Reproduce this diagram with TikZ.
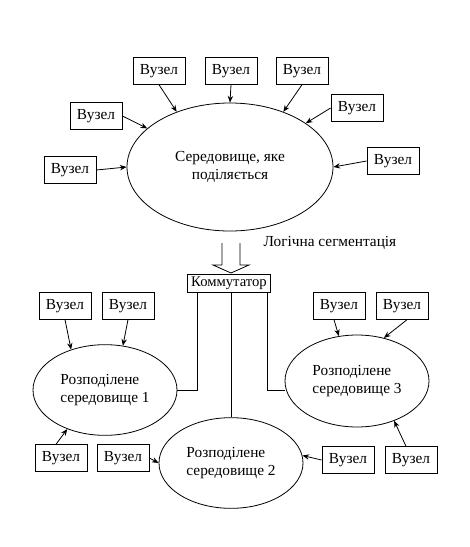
\documentclass[tikz,border=0pt]{standalone}
\usepackage{fontspec}
\setmainfont{Liberation Serif}
\usetikzlibrary{shapes.geometric,arrows.meta}

\begin{document}
\begin{tikzpicture}[x=0.75pt,y=-0.75pt,line width=0.6pt,
	vuzol/.style={draw,minimum width=39pt,minimum height=20pt,inner sep=1pt,font=\fontsize{11.5}{13}\selectfont},
	seredov/.style={draw,ellipse,inner sep=0pt,font=\fontsize{11.5}{14}\selectfont},
	link/.style={-{Stealth[length=5pt,width=4pt]}}]
	\useasboundingbox (0,0) rectangle (470,547);
	% shared medium
	\node[seredov,align=center,minimum width=154.5pt,minimum height=96pt] (shared) at (230,167) {Середовище, яке\\поділяється};
	\node[vuzol] (t1) at (159,71) {Вузел};
	\node[vuzol] (t2) at (231,71) {Вузел};
	\node[vuzol] (t3) at (302,71) {Вузел};
	\node[vuzol] (t4) at (357,108) {Вузел};
	\node[vuzol] (t5) at (96,116) {Вузел};
	\node[vuzol] (t6) at (70,170) {Вузел};
	\node[vuzol] (t7) at (393,161) {Вузел};
	\draw[link] (t1.south) -- (shared.134);
	\draw[link] (t2.south) -- (shared.90);
	\draw[link] (t3.south) -- (shared.46);
	\draw[link] (t4.west) -- (shared.30);
	\draw[link] (t5.east) -- (shared.155);
	\draw[link] (t6.east) -- (shared.180);
	\draw[link] (t7.west) -- (shared.0);
	% segmentation arrow
	\draw (222,243) -- (222,265) -- (213,265) -- (231,273) -- (249,265) -- (240,265) -- (240,243);
	\node[font=\fontsize{11.5}{13}\selectfont] (segm) at (330,243) {Логічна сегментація};
	% switch and segments
	\node[draw,minimum width=62pt,minimum height=13.5pt,inner sep=1pt,font=\fontsize{11}{12}\selectfont] (komm) at (229,283) {Коммутатор};
	\node[seredov,align=left,minimum width=108pt,minimum height=68pt] (seg1) at (105,390) {Розподілене\\середовище 1};
	\node[seredov,align=left,minimum width=108pt,minimum height=68pt] (seg2) at (231,463) {Розподілене\\середовище 2};
	\node[seredov,align=left,minimum width=108pt,minimum height=69pt] (seg3) at (357,381) {Розподілене\\середовище 3};
	\draw ([xshift=-24pt]komm.south) |- (seg1.east);
	\draw ([xshift=1.5pt]komm.south) -- (seg2.north);
	\draw ([xshift=28.5pt]komm.south) |- ([yshift=-6.75pt]seg3.west);
	% nodes of segment 1
	\node[vuzol] (a1) at (65,306) {Вузел};
	\node[vuzol] (a2) at (128,306) {Вузел};
	\node[vuzol] (a3) at (61,458) {Вузел};
	\draw[link] (a1.south) -- (seg1.130);
	\draw[link] (a2.south) -- (seg1.68);
	\draw[link] (a3.110) -- (seg1.226);
	% nodes of segment 2
	\node[vuzol] (b1) at (123,458) {Вузел};
	\node[vuzol] (b2) at (348,460) {Вузел};
	\draw[link] (b1.east) -- (seg2.180);
	\draw[link] (b2.west) -- (seg2.6);
	% nodes of segment 3
	\node[vuzol] (c1) at (339,306) {Вузел};
	\node[vuzol] (c2) at (402,306) {Вузел};
	\node[vuzol] (c3) at (411,460) {Вузел};
	\draw[link] (c1.250) -- (seg3.112);
	\draw[link] (c2.290) -- (seg3.58);
	\draw[link] (c3.110) -- (seg3.313);
\end{tikzpicture}
\end{document}
